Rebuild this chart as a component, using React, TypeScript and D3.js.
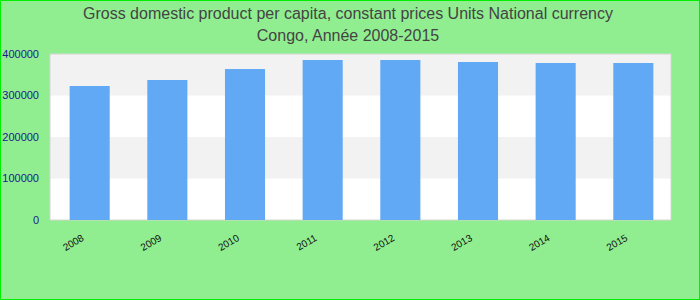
import React from "react";
import * as d3 from "d3";

const years = ["2008", "2009", "2010", "2011", "2012", "2013", "2014", "2015"];
const values = [322900, 337300, 363800, 385500, 385500, 380700, 378300, 378300];
const yTicks = [0, 100000, 200000, 300000, 400000];
const titleLines = [
  "Gross domestic product per capita, constant prices Units National currency",
  "Congo, Année 2008-2015",
];

const W = 700;
const H = 300;
const plot = { left: 50, right: 671, top: 54, bottom: 220 };

export default function App() {
  const x = d3
    .scaleBand<string>()
    .domain(years)
    .range([plot.left + 1, plot.right + 1])
    .paddingInner(0.484)
    .paddingOuter(0.24);
  const y = d3.scaleLinear().domain([0, 400000]).range([plot.bottom, plot.top]);

  const bands = yTicks.slice(0, -1).map((t, i) => ({ lo: t, hi: yTicks[i + 1], gray: i % 2 === 1 }));

  return (
    <svg
      width={W}
      height={H}
      style={{ position: "absolute", left: 0, top: 0, fontFamily: "'Liberation Sans', Arial, sans-serif" }}
    >
      <rect x={0.5} y={0.5} width={W - 1} height={H - 1} fill="#90ee90" stroke="#00ee00" strokeWidth={1} />
      {titleLines.map((t, i) => (
        <text key={i} x={348} y={19 + i * 22} textAnchor="middle" fontSize={16} fill="#444">
          {t}
        </text>
      ))}
      <rect
        x={plot.left}
        y={plot.top}
        width={plot.right - plot.left}
        height={plot.bottom - plot.top}
        fill="#fff"
      />
      {bands.map((b, i) =>
        b.gray ? (
          <rect
            key={i}
            x={plot.left}
            y={y(b.hi)}
            width={plot.right - plot.left}
            height={y(b.lo) - y(b.hi)}
            fill="#f2f2f2"
          />
        ) : null
      )}
      <rect
        x={plot.left}
        y={plot.top}
        width={plot.right - plot.left}
        height={plot.bottom - plot.top}
        fill="none"
        stroke="#d4d4d4"
        strokeWidth={1}
      />
      {years.map((yr, i) => (
        <rect
          key={yr}
          x={x(yr)}
          y={y(values[i])}
          width={x.bandwidth()}
          height={y(0) - y(values[i])}
          fill="#61a9f5"
        />
      ))}
      {yTicks.map((t) => (
        <text key={t} x={39} y={y(t)} dy="0.35em" textAnchor="end" fontSize={11} fill="#1a1a8c">
          {t}
        </text>
      ))}
      {years.map((yr) => {
        const cx = (x(yr) as number) + x.bandwidth() / 2;
        return (
          <text
            key={yr}
            transform={`translate(${cx - 5},${240}) rotate(-30)`}
            textAnchor="end"
            fontSize={10}
            fill="#111"
          >
            {yr}
          </text>
        );
      })}
    </svg>
  );
}
